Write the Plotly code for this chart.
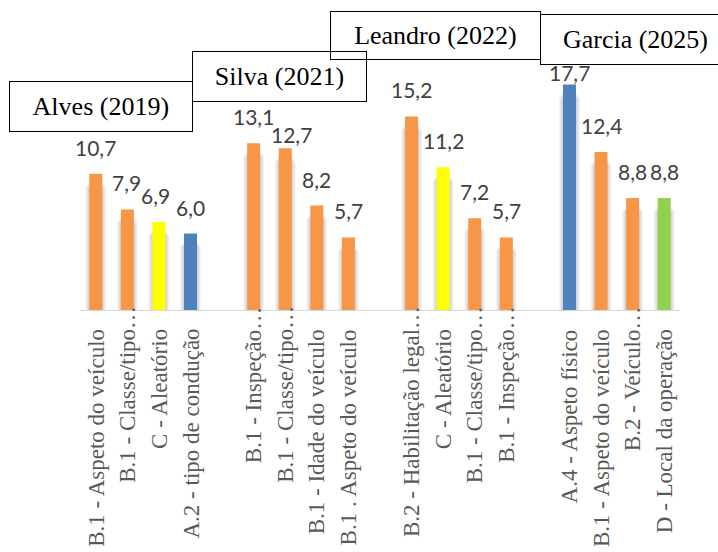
import plotly.graph_objects as go

# Studies and the factors reported by each (percentages)
studies = ["Alves (2019)", "Silva (2021)", "Leandro (2022)", "Garcia (2025)"]

alves_labels = ["B.1 - Aspeto do veículo", "B.1 - Classe/tipo…", "C - Aleatório", "A.2 - tipo de condução"]
alves_values = [10.7, 7.9, 6.9, 6.0]
alves_kinds = ["B", "B", "C", "A"]

silva_labels = ["B.1 - Inspeção…", "B.1 - Classe/tipo…", "B.1 - Idade do veículo", "B.1 . Aspeto do veículo"]
silva_values = [13.1, 12.7, 8.2, 5.7]
silva_kinds = ["B", "B", "B", "B"]

leandro_labels = ["B.2 - Habilitação legal…", "C - Aleatório", "B.1 - Classe/tipo…", "B.1 - Inspeção…"]
leandro_values = [15.2, 11.2, 7.2, 5.7]
leandro_kinds = ["B", "C", "B", "B"]

garcia_labels = ["A.4 - Aspeto físico", "B.1 - Aspeto do veículo", "B.2 - Veículo…", "D - Local da operação"]
garcia_values = [17.7, 12.4, 8.8, 8.8]
garcia_kinds = ["A", "B", "B", "D"]

kind_colors = {"A": "#4F81BD", "B": "#F79646", "C": "#FFFF00", "D": "#92D050"}

groups = [
    (alves_labels, alves_values, alves_kinds),
    (silva_labels, silva_values, silva_kinds),
    (leandro_labels, leandro_values, leandro_kinds),
    (garcia_labels, garcia_values, garcia_kinds),
]

# Flatten groups onto a slot axis, leaving one empty slot between studies
xs, labels, values, colors = [], [], [], []
slot = 0
for g_labels, g_values, g_kinds in groups:
    for lab, val, kind in zip(g_labels, g_values, g_kinds):
        xs.append(slot)
        labels.append(lab)
        values.append(val)
        colors.append(kind_colors[kind])
        slot += 1
    slot += 1
n_slots = slot - 1

W, H = 718, 552
M_L, M_R, M_T, M_B = 80, 38, 40, 242
plot_w = W - M_L - M_R
plot_h = H - M_T - M_B
y_max = 21.2
px_x = plot_w / n_slots          # pixels per slot
px_y = plot_h / y_max            # pixels per unit
bar_w = 13 / px_x

fig = go.Figure()

# soft drop shadow behind each bar
for k in range(1, 5):
    fig.add_trace(go.Bar(
        x=xs,
        y=[v - (7 + 1.5 * k) / px_y for v in values],
        width=bar_w + 2 * k / px_x,
        marker=dict(color="rgba(0,0,0,0.045)", line=dict(width=0)),
        hoverinfo="skip", showlegend=False,
    ))

fig.add_trace(go.Bar(
    x=xs, y=values, width=bar_w,
    marker=dict(color=colors, line=dict(width=0)),
    showlegend=False,
))

annotations = []

# value labels above bars; a few are nudged (dx, dy in px) to clear neighbours
label_nudge = {1: (-1, 0), 2: (-3, 0), 5: (6, -13), 12: (0, -14)}
for i, (x, v) in enumerate(zip(xs, values)):
    dx, dy = label_nudge.get(i, (0, 0))
    annotations.append(dict(
        x=x, y=v, xref="x", yref="y", showarrow=False,
        text=f"{v:.1f}".replace(".", ","),
        font=dict(family="Lato", size=21, color="#404040"),
        xanchor="center", yanchor="bottom", xshift=dx, yshift=12 + dy,
    ))

# category labels, read bottom to top; truncated names let the ellipsis run up past the axis
lab_size = 23
for x, lab in zip(xs, labels):
    shift = -17 + (lab_size if lab.endswith("…") else 0)
    annotations.append(dict(
        x=x, y=0, xref="x", yref="y", showarrow=False,
        text=lab, textangle=-90,
        font=dict(family="Liberation Serif", size=lab_size, color="#595959"),
        xanchor="center", yanchor="top", yshift=shift,
    ))

# study title boxes (pixel geometry: left, top, right, bottom)
title_boxes = [
    (10, 80, 192.7, 130),
    (192.7, 49.3, 366.7, 99.3),
    (331, 9.3, 540.7, 57.3),
    (540, 12.7, 730, 62.3),
]
for name, (x0, y0, x1, y1) in zip(studies, title_boxes):
    annotations.append(dict(
        x=((x0 + x1) / 2 - M_L) / plot_w,
        y=(M_T + plot_h - (y0 + y1) / 2) / plot_h,
        xref="paper", yref="paper", showarrow=False,
        text=name, width=x1 - x0 - 1, height=y1 - y0 - 1,
        font=dict(family="Liberation Serif", size=26, color="#000000"),
        bordercolor="#000000", borderwidth=1, borderpad=0,
        xanchor="center", yanchor="middle", align="center", valign="middle",
        yshift=-2,
    ))

fig.update_layout(
    width=W, height=H,
    margin=dict(l=M_L, r=M_R, t=M_T, b=M_B, pad=0),
    paper_bgcolor="white", plot_bgcolor="white",
    barmode="overlay",
    annotations=annotations,
    xaxis=dict(
        range=[-0.5, n_slots - 0.5], showgrid=False, zeroline=False,
        showline=True, linecolor="#D9D9D9", linewidth=1,
        showticklabels=False, ticks="", fixedrange=True,
    ),
    yaxis=dict(
        range=[0, y_max], visible=False, showgrid=False, zeroline=False,
        fixedrange=True,
    ),
)

fig.write_html("out.html")
